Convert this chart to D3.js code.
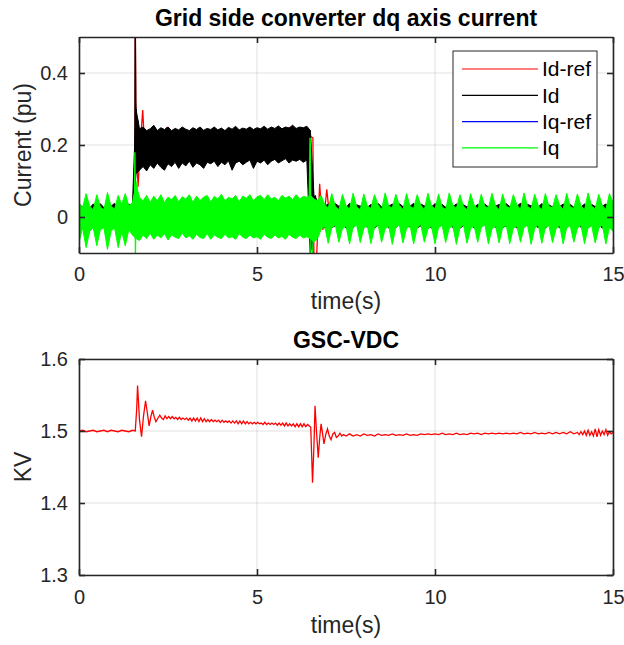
<!DOCTYPE html>
<html>
<head>
<meta charset="utf-8">
<script src="https://cdn.jsdelivr.net/npm/d3@7"></script>
<style>
  body { margin: 0; background: #fff; }
  svg { font-family: "Liberation Sans", Arial, sans-serif; }
</style>
</head>
<body>
<div id="chart"></div>
<script>
// ---- data ----
const timeTicks = [0, 5, 10, 15];
const currentTicks = [0, 0.2, 0.4];
const vdcTicks = [1.3, 1.4, 1.5, 1.6];
const legendNames = ["Id-ref", "Id", "Iq-ref", "Iq"];
const legendColors = ["#ff0000", "#000000", "#0000ff", "#00ff00"];

// dense switching ripple is given as min/max per 0.1 s bin (t = 0 .. 15)
const BAND_STEP = 0.1;
const idHi = [
  0.035,0.028,0.038,0.025,0.036,0.030,0.037,0.026,0.035,0.030,
  0.038,0.027,0.036,0.029,0.035,0.030,0.300,0.245,0.250,0.240,
  0.245,0.255,0.240,0.248,0.243,0.250,0.240,0.246,0.242,0.250,
  0.244,0.240,0.248,0.243,0.250,0.241,0.246,0.243,0.250,0.242,
  0.247,0.240,0.249,0.244,0.252,0.242,0.247,0.244,0.250,0.243,
  0.248,0.245,0.252,0.244,0.250,0.246,0.253,0.245,0.250,0.247,
  0.255,0.246,0.250,0.248,0.252,0.240,0.060,0.045,0.035,0.030,
  0.036,0.028,0.037,0.030,0.035,0.026,0.038,0.029,0.034,0.030,
  0.037,0.027,0.035,0.031,0.038,0.028,0.034,0.030,0.036,0.027,
  0.037,0.029,0.035,0.030,0.038,0.026,0.036,0.031,0.034,0.028,
  0.037,0.030,0.035,0.027,0.038,0.029,0.036,0.030,0.034,0.028,
  0.038,0.027,0.035,0.031,0.036,0.028,0.037,0.030,0.035,0.026,
  0.037,0.029,0.036,0.030,0.038,0.027,0.035,0.031,0.036,0.028,
  0.037,0.030,0.034,0.028,0.038,0.029,0.036,0.030,0.035,0.027,
  0.038,0.028,0.036,0.031,0.035,0.029,0.037,0.030,0.036,0.028,
  0.036
];
const idLo = [
  -0.028,-0.020,-0.030,-0.022,-0.027,-0.024,-0.031,-0.020,-0.028,-0.023,
  -0.030,-0.021,-0.028,-0.024,-0.029,-0.022,0.120,0.130,0.140,0.128,
  0.145,0.135,0.150,0.138,0.130,0.148,0.140,0.152,0.135,0.150,
  0.142,0.155,0.138,0.150,0.145,0.135,0.152,0.148,0.155,0.140,
  0.152,0.145,0.156,0.130,0.150,0.155,0.145,0.152,0.158,0.135,
  0.155,0.150,0.158,0.145,0.155,0.160,0.150,0.156,0.162,0.150,
  0.158,0.155,0.160,0.152,0.158,-0.100,-0.050,-0.030,-0.025,-0.030,
  -0.022,-0.030,-0.024,-0.028,-0.021,-0.031,-0.023,-0.029,-0.020,-0.030,
  -0.024,-0.028,-0.021,-0.031,-0.023,-0.027,-0.022,-0.030,-0.024,-0.029,
  -0.021,-0.031,-0.023,-0.028,-0.022,-0.030,-0.025,-0.029,-0.021,-0.031,
  -0.024,-0.028,-0.022,-0.030,-0.023,-0.029,-0.021,-0.031,-0.024,-0.027,
  -0.022,-0.030,-0.025,-0.028,-0.021,-0.031,-0.023,-0.029,-0.022,-0.030,
  -0.024,-0.028,-0.021,-0.031,-0.023,-0.027,-0.022,-0.030,-0.024,-0.029,
  -0.021,-0.031,-0.023,-0.028,-0.022,-0.030,-0.025,-0.029,-0.021,-0.031,
  -0.024,-0.028,-0.022,-0.030,-0.023,-0.029,-0.021,-0.031,-0.024,-0.027,
  -0.025
];
const iqHi = [
  0.040,0.025,0.065,0.030,0.020,0.062,0.028,0.020,0.068,0.030,
  0.022,0.060,0.035,0.065,0.030,0.040,0.090,0.055,0.045,0.060,
  0.040,0.058,0.045,0.062,0.040,0.055,0.048,0.060,0.042,0.056,
  0.050,0.062,0.040,0.058,0.046,0.055,0.060,0.042,0.057,0.050,
  0.063,0.045,0.055,0.050,0.060,0.042,0.058,0.052,0.062,0.045,
  0.056,0.060,0.048,0.062,0.050,0.055,0.045,0.060,0.052,0.058,
  0.048,0.062,0.050,0.057,0.055,0.060,0.050,0.045,0.060,0.035,
  0.025,0.065,0.030,0.020,0.063,0.032,0.022,0.066,0.028,0.020,
  0.064,0.030,0.024,0.062,0.034,0.020,0.067,0.030,0.025,0.063,
  0.032,0.021,0.065,0.029,0.024,0.062,0.033,0.020,0.066,0.031,
  0.023,0.064,0.028,0.021,0.067,0.032,0.024,0.062,0.030,0.020,
  0.065,0.033,0.022,0.063,0.029,0.025,0.066,0.031,0.020,0.064,
  0.030,0.024,0.062,0.034,0.021,0.067,0.029,0.023,0.063,0.032,
  0.020,0.065,0.030,0.025,0.062,0.033,0.021,0.066,0.028,0.024,
  0.064,0.031,0.020,0.067,0.030,0.023,0.063,0.032,0.021,0.065,
  0.040
];
const iqLo = [
  -0.070,-0.030,-0.085,-0.040,-0.030,-0.080,-0.035,-0.030,-0.090,-0.040,
  -0.030,-0.085,-0.040,-0.080,-0.035,-0.050,-0.060,-0.065,-0.050,-0.060,
  -0.045,-0.062,-0.050,-0.058,-0.046,-0.064,-0.050,-0.056,-0.060,-0.045,
  -0.058,-0.052,-0.062,-0.048,-0.057,-0.060,-0.046,-0.062,-0.050,-0.056,
  -0.060,-0.048,-0.058,-0.055,-0.062,-0.046,-0.056,-0.060,-0.050,-0.058,
  -0.055,-0.062,-0.048,-0.056,-0.060,-0.050,-0.058,-0.054,-0.062,-0.048,
  -0.056,-0.060,-0.050,-0.058,-0.055,-0.060,-0.070,-0.060,-0.035,-0.025,
  -0.073,-0.030,-0.022,-0.070,-0.032,-0.025,-0.075,-0.028,-0.023,-0.071,
  -0.031,-0.024,-0.074,-0.030,-0.021,-0.070,-0.033,-0.025,-0.076,-0.029,
  -0.022,-0.072,-0.032,-0.024,-0.075,-0.030,-0.021,-0.070,-0.034,-0.025,
  -0.074,-0.029,-0.023,-0.071,-0.031,-0.024,-0.076,-0.030,-0.022,-0.073,
  -0.032,-0.025,-0.070,-0.029,-0.021,-0.075,-0.033,-0.024,-0.072,-0.030,
  -0.022,-0.074,-0.031,-0.025,-0.070,-0.029,-0.023,-0.076,-0.032,-0.021,
  -0.073,-0.030,-0.024,-0.071,-0.033,-0.022,-0.075,-0.029,-0.025,-0.070,
  -0.031,-0.023,-0.074,-0.030,-0.024,-0.072,-0.032,-0.021,-0.075,-0.029,
  -0.040
];

// transient spikes [t, value]
const idSpike = [[1.565,0.02],[1.58,0.56],[1.595,0.32],[1.62,0.25],[1.65,0.27],[1.68,0.2],
                 [6.48,0.24],[6.5,-0.12],[6.56,-0.12],[6.6,0.05],[6.64,0.06],[6.7,0.0]];
const iqSpike = [[1.555,0.0],[1.57,0.18],[1.585,-0.12],[1.6,0.06],[1.63,0.1],[1.66,0.02],
                 [6.46,0.0],[6.49,0.22],[6.5,0.2],[6.515,-0.12],[6.56,-0.12],[6.6,0.04]];
const idRef = [[0,0],[1.57,0],[1.58,0.56],[1.6,0.2],[1.66,0.084],[1.72,0.2],[1.79,0.297],
               [1.84,0.2],[1.9,0.13],[1.95,0.2],[2.45,0.2],[2.47,0.25],[2.49,0.2],
               [5.88,0.2],[5.9,0.25],[5.92,0.2],[6.22,0.2],[6.24,0.245],[6.26,0.2],
               [6.45,0.2],[6.49,0.225],[6.57,0.22],[6.6,-0.12],[6.67,-0.12],[6.76,0.092],
               [6.85,-0.036],[6.96,0.077],[7.05,-0.01],[7.12,0.03],[7.25,0],[15,0]];
const iqRef = [[0,0],[15,0]];

// DC link voltage [t, kV]
const vdcPoints = [
  [0,1.500],[0.1,1.501],[0.2,1.499],[0.3,1.500],[0.4,1.501],[0.5,1.499],[0.6,1.500],[0.7,1.501],
  [0.8,1.499],[0.9,1.501],[1.0,1.500],[1.1,1.499],[1.2,1.501],[1.3,1.500],[1.4,1.499],[1.5,1.501],
  [1.58,1.500],[1.62,1.530],[1.645,1.563],[1.70,1.515],[1.757,1.492],[1.81,1.520],[1.87,1.542],
  [1.92,1.525],[1.97,1.507],[2.02,1.520],[2.066,1.529],[2.11,1.520],[2.16,1.513],[2.22,1.518],
  [2.27,1.522],[2.32,1.518],[2.37,1.516],[2.42,1.521],[2.47,1.517],[2.52,1.520],
  [2.57,1.517],[2.62,1.520],[2.67,1.517],[2.72,1.519],[2.77,1.516],[2.82,1.519],[2.87,1.516],
  [2.92,1.518],[2.97,1.516],[3.02,1.518],[3.07,1.515],[3.12,1.518],[3.17,1.514],[3.22,1.518],
  [3.27,1.514],[3.32,1.518],[3.37,1.513],[3.42,1.518],[3.47,1.513],[3.52,1.517],[3.57,1.513],
  [3.62,1.516],[3.67,1.513],[3.72,1.516],[3.77,1.513],[3.82,1.515],[3.87,1.513],[3.92,1.515],
  [3.97,1.512],[4.02,1.515],[4.07,1.512],[4.12,1.514],[4.17,1.512],[4.22,1.514],[4.27,1.511],
  [4.32,1.514],[4.37,1.511],[4.42,1.514],[4.47,1.510],[4.52,1.514],[4.57,1.510],[4.62,1.514],
  [4.67,1.510],[4.72,1.513],[4.77,1.510],[4.82,1.512],[4.87,1.510],[4.92,1.512],[4.97,1.510],
  [5.02,1.512],[5.07,1.510],[5.12,1.511],[5.17,1.509],[5.22,1.512],[5.27,1.509],[5.32,1.511],
  [5.37,1.509],[5.42,1.511],[5.47,1.509],[5.52,1.511],[5.57,1.508],[5.62,1.511],[5.67,1.508],
  [5.72,1.511],[5.77,1.507],[5.82,1.511],[5.87,1.507],[5.92,1.510],[5.97,1.507],[6.02,1.510],
  [6.07,1.506],[6.12,1.510],[6.17,1.506],[6.22,1.510],[6.27,1.506],[6.32,1.510],[6.37,1.506],
  [6.42,1.509],[6.47,1.507],[6.51,1.505],[6.56,1.428],[6.60,1.480],[6.63,1.535],[6.67,1.500],
  [6.72,1.463],[6.76,1.490],[6.80,1.510],[6.84,1.497],[6.88,1.482],[6.93,1.495],[6.98,1.503],
  [7.03,1.493],[7.08,1.488],[7.13,1.496],[7.18,1.498],[7.23,1.491],[7.28,1.493],[7.33,1.497],
  [7.38,1.493],[7.43,1.495],[7.5,1.493],[7.6,1.496],[7.7,1.493],[7.8,1.495],[7.9,1.493],
  [8.0,1.496],[8.1,1.494],[8.2,1.495],[8.3,1.493],[8.4,1.496],[8.5,1.494],[8.6,1.495],
  [8.7,1.494],[8.8,1.496],[8.9,1.494],[9.0,1.495],[9.1,1.494],[9.2,1.496],[9.3,1.494],
  [9.4,1.495],[9.5,1.494],[9.6,1.496],[9.7,1.495],[9.8,1.496],[9.9,1.495],[10.0,1.496],
  [10.1,1.495],[10.2,1.497],[10.3,1.495],[10.4,1.496],[10.5,1.495],[10.6,1.497],[10.7,1.495],
  [10.8,1.496],[10.9,1.495],[11.0,1.497],[11.1,1.496],[11.2,1.497],[11.3,1.495],[11.4,1.497],
  [11.5,1.496],[11.6,1.497],[11.7,1.496],[11.8,1.497],[11.9,1.496],[12.0,1.497],[12.1,1.496],
  [12.2,1.497],[12.3,1.496],[12.4,1.498],[12.5,1.496],[12.6,1.497],[12.7,1.496],[12.8,1.498],
  [12.9,1.496],[13.0,1.497],[13.1,1.496],[13.2,1.498],[13.3,1.496],[13.4,1.498],[13.5,1.496],
  [13.6,1.498],[13.7,1.496],[13.8,1.499],[13.9,1.496],[14.0,1.498],[14.05,1.495],[14.1,1.499],
  [14.15,1.495],[14.2,1.500],[14.25,1.494],[14.3,1.501],[14.35,1.494],[14.4,1.499],[14.45,1.493],
  [14.5,1.503],[14.55,1.492],[14.6,1.502],[14.65,1.494],[14.7,1.500],[14.75,1.495],[14.8,1.502],
  [14.85,1.494],[14.9,1.499],[14.95,1.496],[15.0,1.498]
];

// ---- layout ----
const width = 624, height = 645;
const plotLeft = 79, plotWidth = 534, plotHeight = 216;
const topY = 37, bottomY = 359;
const axisColor = "#262626";

const svg = d3.select("#chart").append("svg")
    .attr("width", width)
    .attr("height", height);

function makePanel(id, top, yDomain, yTicks, yFormat, title, yLabel, xLabelGap, tickGap) {
    const g = svg.append("g").attr("transform", `translate(${plotLeft},${top})`);
    const x = d3.scaleLinear().domain([0, 15]).range([0, plotWidth]);
    const y = d3.scaleLinear().domain(yDomain).range([plotHeight, 0]);

    g.append("rect").attr("width", plotWidth).attr("height", plotHeight).attr("fill", "#fff");

    // grid
    const grid = g.append("g").attr("stroke", "#000").attr("stroke-opacity", 0.12).attr("stroke-width", 1);
    grid.selectAll("line.gx").data(timeTicks).join("line")
        .attr("x1", d => x(d)).attr("x2", d => x(d)).attr("y1", 0).attr("y2", plotHeight);
    grid.selectAll("line.gy").data(yTicks).join("line")
        .attr("y1", d => y(d)).attr("y2", d => y(d)).attr("x1", 0).attr("x2", plotWidth);

    svg.append("clipPath").attr("id", id)
        .append("rect").attr("width", plotWidth).attr("height", plotHeight);
    const plot = g.append("g").attr("clip-path", `url(#${id})`);

    // title and labels
    svg.append("text")
        .attr("x", plotLeft + plotWidth / 2).attr("y", top - 11)
        .attr("text-anchor", "middle")
        .attr("font-size", 23).attr("font-weight", "bold").attr("fill", "#000")
        .text(title);
    svg.append("text")
        .attr("x", plotLeft + plotWidth / 2).attr("y", top + plotHeight + xLabelGap)
        .attr("text-anchor", "middle")
        .attr("font-size", 23).attr("fill", axisColor)
        .text("time(s)");
    svg.append("text")
        .attr("transform", `translate(31,${top + plotHeight / 2}) rotate(-90)`)
        .attr("text-anchor", "middle")
        .attr("font-size", 23).attr("fill", axisColor)
        .text(yLabel);

    return { g, plot, x, y, yTicks, yFormat, tickGap };
}

function drawAxes(p) {
    const { g, x, y, yTicks, yFormat, tickGap } = p;
    const axes = [
        { a: d3.axisBottom(x).tickValues(timeTicks).tickPadding(tickGap), t: `translate(0,${plotHeight})` },
        { a: d3.axisTop(x).tickValues(timeTicks).tickFormat(""), t: "translate(0,0)" },
        { a: d3.axisLeft(y).tickValues(yTicks).tickFormat(yFormat).tickPadding(11), t: "translate(0,0)" },
        { a: d3.axisRight(y).tickValues(yTicks).tickFormat(""), t: `translate(${plotWidth},0)` }
    ];
    axes.forEach(({ a, t }) => {
        const ax = g.append("g").attr("transform", t)
            .call(a.tickSizeInner(-6).tickSizeOuter(0));
        ax.select(".domain").attr("stroke", axisColor).attr("stroke-width", 1.6);
        ax.selectAll(".tick line").attr("stroke", axisColor).attr("stroke-width", 1.6);
        ax.selectAll(".tick text").attr("fill", axisColor).attr("font-size", 20)
            .attr("font-family", "Liberation Sans, Arial, sans-serif");
    });
}

// ---- top panel: dq currents ----
const currentPanel = makePanel("clipTop", topY, [-0.1, 0.5], currentTicks,
    d => d === 0 ? "0" : String(d), "Grid side converter dq axis current", "Current (pu)", 56, 14);

const lineTop = d3.line().x(d => currentPanel.x(d[0])).y(d => currentPanel.y(d[1]));
const band = (hi, lo) => d3.area()
    .x((d, i) => currentPanel.x(i * BAND_STEP))
    .y0((d, i) => currentPanel.y(lo[i]))
    .y1((d, i) => currentPanel.y(hi[i]))(hi);

currentPanel.plot.append("path").attr("d", lineTop(idRef))
    .attr("fill", "none").attr("stroke", legendColors[0]).attr("stroke-width", 1.3);
currentPanel.plot.append("path").attr("d", band(idHi, idLo))
    .attr("fill", legendColors[1]).attr("stroke", legendColors[1]).attr("stroke-width", 1);
currentPanel.plot.append("path").attr("d", lineTop(idSpike))
    .attr("fill", "none").attr("stroke", legendColors[1]).attr("stroke-width", 1.3);
currentPanel.plot.append("path").attr("d", lineTop(iqRef))
    .attr("fill", "none").attr("stroke", legendColors[2]).attr("stroke-width", 1.3);
currentPanel.plot.append("path").attr("d", band(iqHi, iqLo))
    .attr("fill", legendColors[3]).attr("stroke", legendColors[3]).attr("stroke-width", 1);
currentPanel.plot.append("path").attr("d", lineTop(iqSpike))
    .attr("fill", "none").attr("stroke", legendColors[3]).attr("stroke-width", 1.3);

drawAxes(currentPanel);

// legend
const legend = svg.append("g").attr("transform", "translate(453,51)");
legend.append("rect").attr("width", 144).attr("height", 116)
    .attr("fill", "#fff").attr("stroke", axisColor).attr("stroke-width", 1);
const item = legend.selectAll("g.item").data(legendNames).join("g")
    .attr("transform", (d, i) => `translate(0,${18 + i * 26.3})`);
item.append("line").attr("x1", 9).attr("x2", 85)
    .attr("stroke", (d, i) => legendColors[i]).attr("stroke-width", 1.2);
item.append("text").attr("x", 89).attr("dy", "0.35em")
    .attr("font-size", 21).attr("fill", "#000").text(d => d);

// ---- bottom panel: DC voltage ----
const vdcPanel = makePanel("clipBottom", bottomY, [1.3, 1.6], vdcTicks,
    d3.format(".1f"), "GSC-VDC", "KV", 58, 15);

vdcPanel.plot.append("path")
    .attr("d", d3.line().x(d => vdcPanel.x(d[0])).y(d => vdcPanel.y(d[1]))(vdcPoints))
    .attr("fill", "none").attr("stroke", "#ff0000").attr("stroke-width", 1.3);

drawAxes(vdcPanel);
</script>
</body>
</html>
